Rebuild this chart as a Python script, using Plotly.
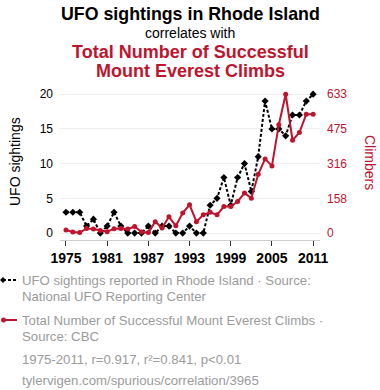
import plotly.graph_objects as go

years = list(range(1975, 2012))
ufo = [3, 3, 3, 1, 2, 0, 1, 3, 1, 0, 0, 0, 1, 0, 1, 1, 0, 0, 1, 0, 0,
       4, 5, 8, 4, 8, 10, 6, 11, 19, 15, 15, 14, 17, 17, 19, 20]
climbers = [14, 5, 2, 21, 18, 12, 6, 20, 21, 18, 30, 5, 2, 52, 23, 74, 33, 91, 129,
            52, 83, 95, 83, 121, 121, 144, 182, 159, 268, 338, 306, 494, 633, 423, 458, 542, 542]
x_ticks = [1975, 1981, 1987, 1993, 1999, 2005, 2011]
y_ticks = [0, 5, 10, 15, 20]
y2_ticks = [0, 158, 316, 475, 633]

RED = "#c0142e"
GRAY = "#9b9b9b"
FONT = "Liberation Sans, Arial, sans-serif"

# plot area in pixels
L, R, T, B = 60, 320, 90, 240
W, H = 380, 390

def px(x):
    return (x - L) / (R - L)

def py(y):
    return (B - y) / (B - T)

fig = go.Figure()
fig.add_trace(go.Scatter(
    x=years, y=ufo, mode="lines+markers", name="UFO",
    line=dict(color="black", width=2, dash="3px,2px"),
    marker=dict(symbol="diamond", size=5.5, color="black"),
    yaxis="y", showlegend=False))
fig.add_trace(go.Scatter(
    x=years, y=climbers, mode="lines+markers", name="Climbers",
    line=dict(color=RED, width=2),
    marker=dict(symbol="circle", size=5, color=RED),
    yaxis="y2", showlegend=False))

ymin, ymax = -1, 20.6
fig.update_layout(
    width=W, height=H,
    margin=dict(l=L, r=W - R, t=T, b=H - B, autoexpand=False),
    paper_bgcolor="white", plot_bgcolor="white",
    font=dict(family=FONT, color="black"),
    xaxis=dict(range=[1974.13, 2012.0], tickvals=x_ticks, ticks="outside", ticklen=5,
               tickcolor="#333", showgrid=False, zeroline=False, showline=True,
               linecolor="#cccccc", linewidth=1, automargin=False,
               tickfont=dict(size=14, weight="bold", color="black")),
    yaxis=dict(range=[ymin, ymax], tickvals=y_ticks, showgrid=True, gridcolor="#eeeeee",
               zeroline=False, ticks="", ticklabelstandoff=6, automargin=False,
               tickfont=dict(size=12, color="black")),
    yaxis2=dict(range=[ymin * 633 / 20, ymax * 633 / 20], tickvals=y2_ticks, overlaying="y",
                side="right", showgrid=False, zeroline=False, ticks="", ticklabelstandoff=6,
                automargin=False, tickfont=dict(size=12, color=RED)),
)

anns = [
    dict(text="<b>UFO sightings in Rhode Island</b>", x=190, y=14, size=17.8, color="black", xa="center"),
    dict(text="correlates with", x=190, y=33, size=14, color="black", xa="center"),
    dict(text="<b>Total Number of Successful</b>", x=190, y=52, size=18, color=RED, xa="center"),
    dict(text="<b>Mount Everest Climbs</b>", x=190, y=71, size=18, color=RED, xa="center"),
    dict(text="UFO sightings reported in Rhode Island · Source:", x=20, y=280, size=13.2, color=GRAY, xa="left"),
    dict(text="National UFO Reporting Center", x=20, y=296, size=13.2, color=GRAY, xa="left"),
    dict(text="Total Number of Successful Mount Everest Climbs ·", x=20, y=320, size=13.2, color=GRAY, xa="left"),
    dict(text="Source: CBC", x=20, y=336, size=13.2, color=GRAY, xa="left"),
    dict(text="1975-2011, r=0.917, r²=0.841, p<0.01", x=20, y=359, size=13.2, color=GRAY, xa="left"),
    dict(text="tylervigen.com/spurious/correlation/3965", x=20, y=380, size=13.2, color=GRAY, xa="left"),
]
for a in anns:
    fig.add_annotation(text=a["text"], x=px(a["x"]), y=py(a["y"]), xref="paper", yref="paper",
                       xanchor=a["xa"], yanchor="middle", showarrow=False,
                       font=dict(size=a["size"], color=a["color"], family=FONT))

# axis titles
fig.add_annotation(text="UFO sightings", x=px(15), y=py(162), xref="paper", yref="paper",
                   textangle=-90, showarrow=False, xanchor="center", yanchor="middle",
                   font=dict(size=14, color="black", family=FONT))
fig.add_annotation(text="Climbers", x=px(370), y=py(162), xref="paper", yref="paper",
                   textangle=90, showarrow=False, xanchor="center", yanchor="middle",
                   font=dict(size=14, color=RED, family=FONT))

# legend samples
fig.add_shape(type="line", xref="paper", yref="paper", x0=px(3), x1=px(17), y0=py(280), y1=py(280),
              line=dict(color="black", width=2, dash="3px,2px"))
fig.add_shape(type="path", xref="paper", yref="paper",
              path=f"M {px(3)},{py(277)} L {px(6)},{py(280)} L {px(3)},{py(283)} L {px(0)},{py(280)} Z",
              fillcolor="black", line=dict(width=0))
fig.add_shape(type="line", xref="paper", yref="paper", x0=px(3), x1=px(17), y0=py(320), y1=py(320),
              line=dict(color=RED, width=2))
fig.add_shape(type="circle", xref="paper", yref="paper", x0=px(1), x1=px(6), y0=py(317.5), y1=py(322.5),
              fillcolor=RED, line=dict(width=0))

fig.write_html("out.html", config={"displayModeBar": False},
               post_script="document.body.style.margin='0';document.body.style.overflow='hidden';")
